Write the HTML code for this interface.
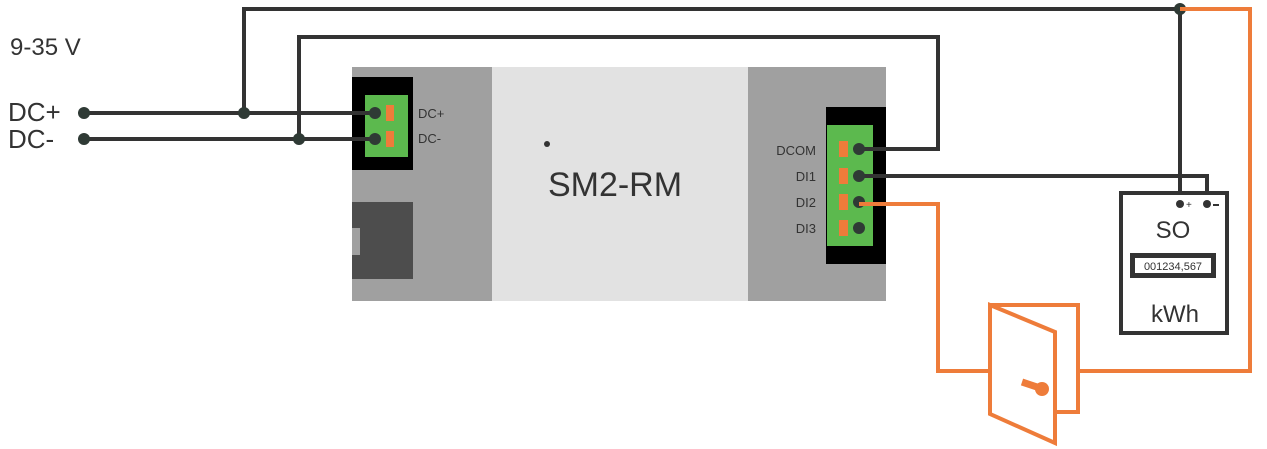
<!DOCTYPE html>
<html><head><meta charset="utf-8"><style>html,body{margin:0;padding:0;background:#fff}svg{display:block}</style></head>
<body>
<svg width="1267" height="449" viewBox="0 0 1267 449" xmlns="http://www.w3.org/2000/svg" font-family="Liberation Sans, sans-serif">
<!-- device -->
<rect x="352" y="67" width="140" height="234" fill="#a0a0a0"/>
<rect x="492" y="67" width="256" height="234" fill="#e2e2e2"/>
<rect x="748" y="67" width="138" height="234" fill="#a0a0a0"/>
<rect x="352" y="77" width="61" height="93" fill="#000"/>
<rect x="365" y="95" width="43" height="62" fill="#5cb94e"/>
<rect x="352" y="202" width="61" height="77" fill="#4d4d4d"/>
<rect x="352" y="228" width="8" height="27" fill="#a0a0a0"/>
<rect x="386" y="105" width="8" height="16" fill="#ee7c3a"/>
<rect x="386" y="131" width="8" height="16" fill="#ee7c3a"/>
<text x="418" y="118" font-size="13" fill="#333">DC+</text>
<text x="418" y="143" font-size="13" fill="#333">DC-</text>
<circle cx="547" cy="144" r="3" fill="#333"/>
<text x="615" y="196" font-size="34" fill="#333" text-anchor="middle">SM2-RM</text>
<rect x="826" y="107" width="60" height="157" fill="#000"/>
<rect x="827" y="125" width="46" height="121" fill="#5cb94e"/>
<g fill="#ee7c3a"><rect x="839" y="141" width="9" height="16"/><rect x="839" y="168" width="9" height="16"/><rect x="839" y="194" width="9" height="16"/><rect x="839" y="220" width="9" height="16"/></g>
<g font-size="13" fill="#333" text-anchor="end"><text x="816" y="155">DCOM</text><text x="816" y="181">DI1</text><text x="816" y="207">DI2</text><text x="816" y="233">DI3</text></g>
<!-- wires dark -->
<g stroke="#333" stroke-width="4" fill="none">
<line x1="84" y1="113" x2="375" y2="113"/>
<line x1="84" y1="139" x2="375" y2="139"/>
<polyline points="244,113 244,9 1180,9 1180,203"/>
<polyline points="299,139 299,37 938,37 938,149 859,149"/>
<polyline points="859,176 1207,176 1207,203"/>
</g>
<g fill="#2f3a35">
<circle cx="84" cy="113" r="6"/><circle cx="84" cy="139" r="6"/>
<circle cx="244" cy="113" r="6"/><circle cx="299" cy="139" r="6"/>
<circle cx="375" cy="113" r="6"/><circle cx="375" cy="139" r="6"/>
<circle cx="859" cy="149" r="6"/><circle cx="859" cy="176" r="6"/><circle cx="859" cy="202" r="6"/><circle cx="859" cy="228" r="6"/>
<circle cx="1180" cy="9" r="6"/>
</g>
<!-- orange wires -->
<g stroke="#ee7c3a" stroke-width="4" fill="none">
<polyline points="1180,9 1250,9 1250,371 1078,371"/>
<polyline points="859,204 938,204 938,371 990,371"/>
<rect x="990" y="305" width="88" height="107"/>
<polygon points="990,305 1055,332 1055,443 990,414" fill="#fff"/>
<line x1="1022" y1="382" x2="1040" y2="388" stroke-width="7"/>
</g>
<circle cx="1042" cy="389" r="7" fill="#ee7c3a"/>
<!-- meter -->
<rect x="1121" y="193" width="106" height="140" fill="#fff" stroke="#333" stroke-width="4"/>
<circle cx="1180" cy="204" r="4" fill="#333"/><circle cx="1207" cy="204" r="4" fill="#333"/>
<text x="1186" y="208" font-size="10" fill="#333">+</text>
<rect x="1213" y="204" width="6" height="2" fill="#333"/>
<text x="1173" y="238" font-size="24" fill="#333" text-anchor="middle">SO</text>
<rect x="1130" y="253" width="86" height="25" fill="#333"/>
<rect x="1135" y="258" width="76" height="15" fill="#fff"/>
<text x="1173" y="270" font-size="11" fill="#333" text-anchor="middle">001234,567</text>
<text x="1175" y="322" font-size="24" fill="#333" text-anchor="middle">kWh</text>
<!-- labels -->
<text x="10" y="55" font-size="24" fill="#333">9-35 V</text>
<text x="8" y="121" font-size="26" fill="#333">DC+</text>
<text x="8" y="148" font-size="26" fill="#333">DC-</text>
</svg>
</body></html>
